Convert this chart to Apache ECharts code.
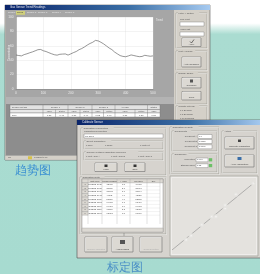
<!DOCTYPE html>
<html>
<head>
<meta charset="UTF-8">
<title>趋势图 / 标定图</title>
<script src="https://cdn.jsdelivr.net/npm/echarts/dist/echarts.min.js"></script>
<style>html,body{margin:0;padding:0;background:#fff;} #main{width:260px;height:274px;}</style>
</head>
<body>
<div id="main"></div>
<script>
// 趋势图数据
var trendX = [0,10,20,30,40,50,60,70,80,90,100,110,120,130,140,150,160,170,180,190,200,
  210,220,230,240,250,260,270,280,290,300,310,320,330,340,350,360,370,380,390,400,
  410,420,430,440,450,460,470,480,490,500];
var trendY = [47.2,46.5,46.0,47.8,48.9,50.3,51.5,53.0,54.6,54.9,53.1,52.0,50.4,48.9,47.6,47.0,48.2,48.5,48.7,47.1,48.8,
  50.6,52.1,54.6,56.2,58.4,61.0,63.2,64.9,67.5,66.8,64.9,62.6,59.8,56.9,54.7,51.3,48.8,46.4,45.3,44.8,
  45.9,47.3,46.5,45.6,44.9,45.2,46.8,46.1,45.5,46.0];

// 标定图数据
var calibX = [1.7,2.3,3.6,4.8,5.3,6.4,6.4,7.7,9.8];
var calibY = [1.5,2.1,3.7,4.9,4.9,6.1,6.6,8.2,9.8];
var fitX = [0,10];
var fitY = [0,10];

// 标定数据表
var calibRows = [
  ['1','2012/8/2 10:15','1.2345','1.5','1.4987'],
  ['2','2012/8/2 10:21','2.1536','2.1','2.0671'],
  ['3','2012/8/2 10:30','3.6102','3.7','3.6544'],
  ['4','2012/8/2 10:42','4.8011','4.9','4.8820'],
  ['5','2012/8/2 10:50','5.3120','4.9','5.2265'],
  ['6','2012/8/2 11:02','6.4008','6.1','6.3410'],
  ['7','2012/8/2 11:09','6.4391','6.6','6.4978'],
  ['8','2012/8/2 11:20','7.7200','8.2','7.8015'],
  ['9','2012/8/2 11:31','9.8012','9.8','9.7966']
];

var els = [];
function rect(x,y,w,h,fill,stroke,z,lw){
  els.push({type:'rect',silent:true,z:z,shape:{x:x,y:y,width:w,height:h},
    style:{fill:fill||'none',stroke:stroke||null,lineWidth:lw||0.5}});
}
function txt(x,y,s,size,color,z,align,rot){
  els.push({type:'text',silent:true,z:z,x:x,y:y,rotation:rot||0,
    style:{text:s,fontSize:size,fill:color,fontFamily:'Liberation Sans',
      textAlign:align||'left',textVerticalAlign:'middle'}});
}
function ln(x1,y1,x2,y2,color,z,lw){
  els.push({type:'line',silent:true,z:z,shape:{x1:x1,y1:y1,x2:x2,y2:y2},
    style:{stroke:color,lineWidth:lw||0.5}});
}
function groupBox(x,y,w,h,label,bg,z){
  rect(x,y,w,h,'none','#8f8c86',z,0.5);
  rect(x+0.5,y+0.5,w,h,'none','#ffffff',z,0.4);
  if(label){
    rect(x+2,y-1.5,label.length*1.35+1,3,bg,null,z);
    txt(x+2.5,y,label,2.4,'#555',z);
  }
}
function button(x,y,w,h,label,z,dis){
  rect(x,y,w,h,'#dcd9d3','#6e6e6e',z,0.6);
  ln(x+0.5,y+0.5,x+w-0.5,y+0.5,'#fff',z,0.5);
  ln(x+0.5,y+0.5,x+0.5,y+h-0.5,'#fff',z,0.5);
  if(label) txt(x+w/2,y+h-2.5,label,2.3,dis?'#aaa':'#444',z,'center');
}
function titleBar(x,y,w,label,z){
  els.push({type:'rect',silent:true,z:z,shape:{x:x,y:y,width:w,height:5},
    style:{fill:{type:'linear',x:0,y:0,x2:1,y2:0,colorStops:[
      {offset:0,color:'#0a246a'},{offset:0.6,color:'#3a6ea5'},{offset:1,color:'#a6caf0'}]}}});
  txt(x+5,y+2.6,label,2.8,'#e8e8f0',z);
}

// 背景
els.push({type:'rect',silent:true,z:0,shape:{x:0,y:0,width:260,height:274},
  style:{fill:{type:'linear',x:0,y:0,x2:0,y2:1,colorStops:[
    {offset:0,color:'#ffffff'},{offset:0.085,color:'#ffffff'},
    {offset:0.125,color:'#aadcd1'},{offset:1,color:'#a7dbd0'}]}}});

// ---- 趋势窗口 ----
var Z1 = 1;
rect(5,5,205,155,'#d4d0c8','#5a5a5a',Z1,0.6);
titleBar(5,5,205,'Gas Sensor Trend Readings',Z1);
rect(6,10,168,146,'#8d8d8d',null,Z1);
rect(6,10,168,87,'#a6a6a6',null,Z1);
rect(6,97,168,7,'#b3b3b3',null,Z1);
// 标签页
txt(8,12.8,'Sensor',2.3,'#e6e6e6',Z1);
rect(16,11,9,3.8,'#cfcf7a',null,Z1);
txt(17,12.8,'Trend',2.3,'#444',Z1);
txt(27,12.8,'Sensor 2',2.3,'#e6e6e6',Z1);
txt(38,12.8,'Sensor 3',2.3,'#e6e6e6',Z1);
txt(52,12.8,'Sensor 4',2.3,'#e6e6e6',Z1);
txt(65,12.8,'Sensor 5',2.3,'#e6e6e6',Z1);
// 绘图区
rect(16,17,137,72,'#ffffff',null,Z1);
txt(156,20,'Trend',2.6,'#ececec',Z1);
txt(9.5,53,'Concentration',2.6,'#ececec',Z1,'center',Math.PI/2);
// 表格
var tcols = [10,43,55.5,68,80,92,103.5,115,135,147.5,160];
rect(10,105,150,4.5,'#e2e2e2','#777',Z1,0.4);
rect(10,109.5,150,3.5,'#e8e8e8','#777',Z1,0.4);
rect(10,113,150,4,'#ffffff','#777',Z1,0.4);
for(var i=1;i<tcols.length-1;i++){
  var colTop = (i%2===0 && i<9) ? 109.5 : 105;
  ln(tcols[i],colTop,tcols[i],117,'#777',Z1,0.4);
}
txt(12,107.2,'Sensor Unit SN',2.2,'#555',Z1);
var hdr = ['Sensor 1','Sensor 2','Sensor 3','Average','Status'];
var hx = [55.5,80,103.5,125,153.7];
for(i=0;i<hdr.length;i++) txt(hx[i],107.2,hdr[i],2.2,'#555',Z1,'center');
var vals = ['0.51','0.48','0.50','0.49','0.52','0.47','0.51','0.50','0.50'];
for(i=0;i<vals.length;i++){
  txt((tcols[i+1]+tcols[i+2])/2,111.2,i%2?'Status':'Value',2.1,'#555',Z1,'center');
  txt((tcols[i+1]+tcols[i+2])/2,115,vals[i],2.2,'#444',Z1,'center');
}
txt(12,115,'ppm',2.2,'#444',Z1);
// 状态栏
rect(5,155.5,205,4.5,'#d4d0c8','#999',Z1,0.3);
rect(28,156.3,4,3,'#d8c24a',null,Z1);
txt(8,157.8,'On',2.2,'#555',Z1);
txt(34,157.8,'Logging to file',2.2,'#555',Z1);
// 右侧面板
rect(174,10,35,146,'#d4d0c8',null,Z1);
groupBox(176,13,31,35,'Filter Y Option','#d4d0c8',Z1);
txt(180,19.5,'Low Limit',2.3,'#555',Z1);
rect(180,22,24,4,'#fff','#777',Z1,0.4);
txt(180,29.5,'High Limit',2.3,'#555',Z1);
rect(180,32,24,4,'#fff','#777',Z1,0.4);
button(182,38,19,8.5,'Apply',Z1);
ln(190,41.5,191.5,43,'#222',Z1,0.6); ln(191.5,43,194,39.5,'#222',Z1,0.6);
groupBox(176,51,31,19,'Plot Y Range','#d4d0c8',Z1);
button(182,57,19,10,'Auto Configure',Z1);
groupBox(176,73,31,31,'Display Buffer','#d4d0c8',Z1);
button(182,77.5,19,10.5,'Configure',Z1);
rect(190,79.5,3,3,'#555',null,Z1);
button(182,91.5,19,8.5,'Clear',Z1);
groupBox(176,106,31,50,'Update Interval','#d4d0c8',Z1);
txt(180,110.5,'o 1 Second',2.3,'#555',Z1);
txt(180,114.5,'o 5 Seconds',2.3,'#555',Z1);
txt(180,118.5,'o 10 Seconds',2.3,'#555',Z1);

// ---- 标定窗口 ----
var Z2 = 3;
var bg2 = '#d6d3ce';
rect(77,120,185,138,bg2,'#4a4a4a',Z2,0.6);
titleBar(77,120,185,'Calibrate Sensor',Z2);
groupBox(81,128,85,47,'Calibration Parameters',bg2,Z2);
txt(84,131.5,'Calibration Description',2.3,'#555',Z2);
rect(84,134,79,4,'#fff','#777',Z2,0.4);
txt(85,136,'Cal 2012',2.2,'#555',Z2);
groupBox(84,141,79,8,'Select Calibration',bg2,Z2);
txt(86,145.5,'o Zero',2.3,'#555',Z2);
txt(105,145.5,'o Span',2.3,'#555',Z2);
txt(140,145.5,'o Multi-Pt',2.3,'#555',Z2);
groupBox(84,152,79,8,'Choose certified calibration reference',bg2,Z2);
txt(86,156.5,'o Cert. Gas A',2.3,'#555',Z2);
txt(111,156.5,'o Cert. Gas B',2.3,'#555',Z2);
txt(138,156.5,'o Cert. Gas C',2.3,'#555',Z2);
button(95,163,22,8.5,'Load',Z2);
rect(104.5,164.5,3,2.5,'#333',null,Z2);
button(125,163,20,8.5,'Save',Z2);
rect(133.5,164.5,3,2.5,'#333',null,Z2);
groupBox(170,127,49,47,'Calibration Results',bg2,Z2);
groupBox(172,131,45,20,'Coefficients',bg2,Z2);
var coefL = ['Coefficient A','Coefficient B','Coefficient C'];
var coefV = ['0.9','0.0115','1.0009'];
var coefY = [136.5,141.5,146.8];
for(i=0;i<3;i++){
  txt(197,coefY[i],coefL[i],2.2,'#555',Z2,'right');
  rect(198,coefY[i]-2,14,4,'#fff','#777',Z2,0.4);
  txt(199,coefY[i],coefV[i],2.2,'#444',Z2);
}
groupBox(172,154,45,18,'Confidence',bg2,Z2);
txt(195,159.8,'Correlation',2.2,'#555',Z2,'right');
rect(196,158,12,3.8,'#fff','#777',Z2,0.4);
txt(197,159.8,'0.998',2.2,'#444',Z2);
rect(209,158.2,3.2,3.2,'#6cc067',null,Z2);
txt(195,165.6,'Standard Error',2.2,'#555',Z2,'right');
rect(196,163.8,12,3.8,'#fff','#777',Z2,0.4);
txt(197,165.6,'0.12',2.2,'#444',Z2);
rect(209,164,3.2,3.2,'#6cc067',null,Z2);
groupBox(222,131,35,42,'Action',bg2,Z2);
button(225,137,29,12,'Calculate Calibration',Z2);
rect(238,139.5,3,2.5,'#444',null,Z2);
button(225,155,29,12,'Apply Calibration',Z2);
rect(237.5,157,4,3,'#3b6ea8',null,Z2);
// 标定数据表
groupBox(80,177,86,57,'Calibration Data',bg2,Z2);
rect(82,179,81,53,'#ffffff','#777',Z2,0.4);
var ccols = [82,88,102,117,130,147,160,163];
var chead = ['','Date Time','Sensor Reading','Y Value','Ref Value','Dev'];
rect(82,179,81,3.8,'#dcd9d3','#777',Z2,0.3);
for(i=1;i<ccols.length-1;i++) ln(ccols[i],179,ccols[i],224,'#999',Z2,0.3);
for(i=0;i<chead.length;i++) txt((ccols[i]+ccols[i+1])/2,181,chead[i],2.0,'#444',Z2,'center');
for(var r=0;r<calibRows.length;r++){
  var ry = 182.8 + r*3.6;
  rect(82,ry,6,3.6,'#dcd9d3','#888',Z2,0.3);
  ln(88,ry+3.6,160,ry+3.6,'#bbb',Z2,0.2);
  for(var c=0;c<calibRows[r].length;c++)
    txt((ccols[c]+ccols[c+1])/2,ry+1.9,calibRows[r][c],2.0,'#444',Z2,'center');
}
rect(82,228,81,4,'#dcd9d3','#888',Z2,0.3);
// 底部按钮
button(85,237,22,15,'Remove Selected',Z2,true);
button(112,237,21,15,'Add Reading',Z2);
rect(120,240,5,4,'#555',null,Z2);
button(140,237,22,15,'Clear Selected',Z2,true);
ln(124,233,124,236,'#555',Z2,0.4);
// 标定图区域
rect(170,176,88,80,'#e4e2de','#8f8c86',Z2,0.5);
rect(171.5,177.5,85,77,'none','#ffffff',Z2,0.4);

// 图片标题
txt(32.5,171,'趋势图',12,'#3a8fd2',Z1,'center');
txt(125,268,'标定图',11.5,'#4a8fc6',Z2,'center');

var trendData = trendX.map(function(x,i){ return [x, trendY[i]]; });
var calibData = calibX.map(function(x,i){ return [x, calibY[i]]; });
var fitData = fitX.map(function(x,i){ return [x, fitY[i]]; });

var dom = document.getElementById('main');
var myChart = echarts.init(dom, null, {renderer:'canvas'});
var option = {
  animation: false,
  graphic: {elements: els},
  grid: [
    {left:16, top:17, width:137, height:72, z:4},
    {left:172, top:182, width:83, height:68, z:4}
  ],
  xAxis: [
    {gridIndex:0, type:'value', min:0, max:500, interval:100, z:4,
      axisLine:{show:true, onZero:false, lineStyle:{color:'#777', width:0.5}},
      axisTick:{show:false},
      axisLabel:{fontSize:3.2, color:'#ececec', margin:2.5},
      splitLine:{show:true, lineStyle:{color:'#cfcfcf', type:'dotted', width:0.5}}},
    {gridIndex:1, type:'value', min:0, max:10, show:false}
  ],
  yAxis: [
    {gridIndex:0, type:'value', min:0, max:100, interval:20, z:4,
      axisLine:{show:true, lineStyle:{color:'#777', width:0.5}},
      axisTick:{show:false},
      axisLabel:{fontSize:3.2, color:'#ececec', margin:2.5},
      splitLine:{show:true, lineStyle:{color:'#cfcfcf', type:'dotted', width:0.5}}},
    {gridIndex:1, type:'value', min:0, max:10, show:false}
  ],
  series: [
    {name:'Trend', type:'line', xAxisIndex:0, yAxisIndex:0, data:trendData, z:5,
      showSymbol:false, lineStyle:{color:'#505050', width:0.6}},
    {name:'Fit', type:'line', xAxisIndex:1, yAxisIndex:1, data:fitData, z:5,
      showSymbol:false, lineStyle:{color:'#8a8a8a', width:0.6}},
    {name:'Points', type:'scatter', xAxisIndex:1, yAxisIndex:1, data:calibData, z:6,
      symbol:'emptyCircle', symbolSize:3.2,
      itemStyle:{color:'#e4e2de', borderColor:'#555', borderWidth:0.6}}
  ]
};
if (option && typeof option === "object") {
  myChart.setOption(option, true);
}
</script>
</body>
</html>
